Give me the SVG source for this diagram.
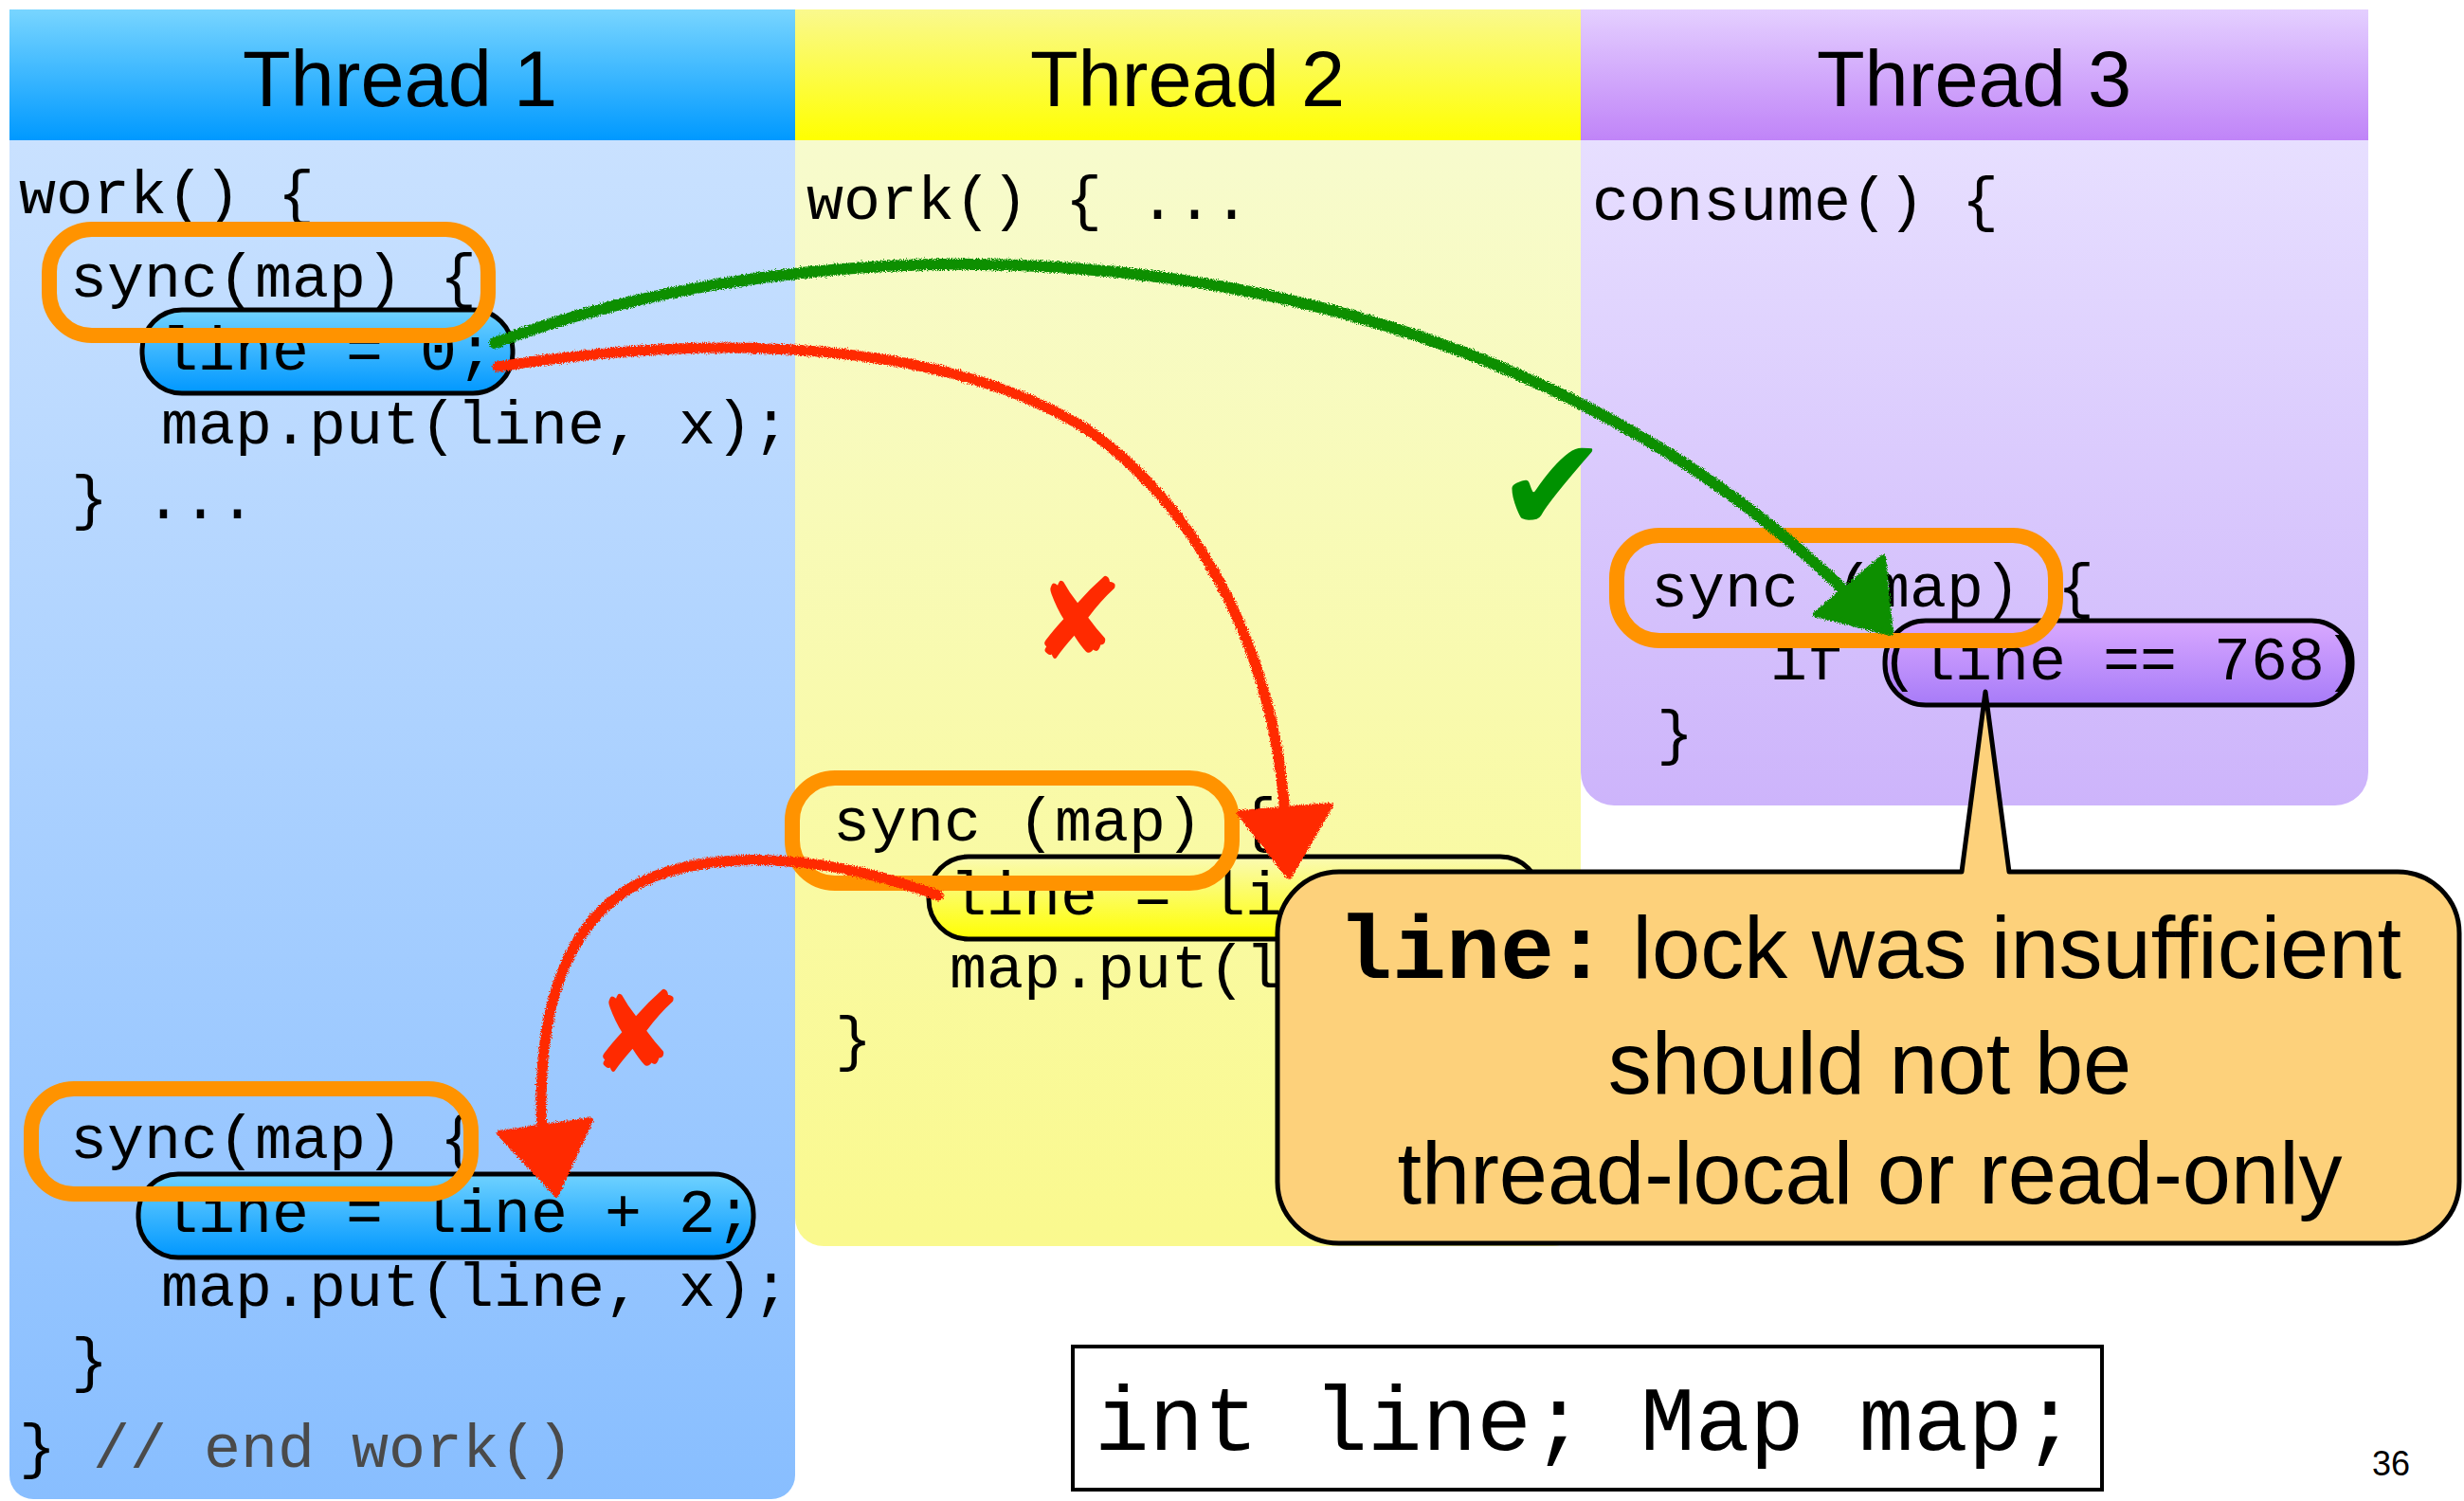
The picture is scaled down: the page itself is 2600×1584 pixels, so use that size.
<svg xmlns="http://www.w3.org/2000/svg" width="2600" height="1584" viewBox="0 0 2600 1584">
<defs>
<linearGradient id="h1" x1="0" y1="0" x2="0" y2="1"><stop offset="0" stop-color="#78D5FF"/><stop offset="1" stop-color="#0099FF"/></linearGradient>
<linearGradient id="b1" x1="0" y1="0" x2="0" y2="1"><stop offset="0" stop-color="#C9E1FF"/><stop offset="1" stop-color="#88BEFF"/></linearGradient>
<linearGradient id="h2" x1="0" y1="0" x2="0" y2="1"><stop offset="0" stop-color="#FAF98E"/><stop offset="1" stop-color="#FFFF00"/></linearGradient>
<linearGradient id="b2" x1="0" y1="0" x2="0" y2="1"><stop offset="0" stop-color="#F7FBCD"/><stop offset="1" stop-color="#FAF98E"/></linearGradient>
<linearGradient id="h3" x1="0" y1="0" x2="0" y2="1"><stop offset="0" stop-color="#E4CFFF"/><stop offset="1" stop-color="#C084F8"/></linearGradient>
<linearGradient id="b3" x1="0" y1="0" x2="0" y2="1"><stop offset="0" stop-color="#E7DFFF"/><stop offset="1" stop-color="#CDB4FB"/></linearGradient>
<linearGradient id="p1" x1="0" y1="0" x2="0" y2="1"><stop offset="0" stop-color="#70D2FF"/><stop offset="1" stop-color="#0097FF"/></linearGradient>
<linearGradient id="p2" x1="0" y1="0" x2="0" y2="1"><stop offset="0" stop-color="#FAFAB4"/><stop offset="1" stop-color="#FFFF00"/></linearGradient>
<linearGradient id="p3" x1="0" y1="0" x2="0" y2="1"><stop offset="0" stop-color="#D9A9FF"/><stop offset="1" stop-color="#A77BF8"/></linearGradient>
<filter id="rough" filterUnits="userSpaceOnUse" x="0" y="0" width="2600" height="1584">
<feTurbulence type="fractalNoise" baseFrequency="0.9" numOctaves="2" seed="3" result="n"/>
<feDisplacementMap in="SourceGraphic" in2="n" scale="6" xChannelSelector="R" yChannelSelector="G"/>
</filter>
<style>
.mono{font-family:"Liberation Mono","Courier New",monospace;font-size:65px;fill:#000}
.big{font-size:96px}
.hdr{font-family:"Liberation Sans",Arial,sans-serif;font-size:83px;text-anchor:middle;fill:#000}
.sans{font-family:"Liberation Sans",Arial,sans-serif;fill:#000}
.lock{fill:none;stroke:#FF9300;stroke-width:16}
.pill{stroke:#000;stroke-width:5}
.red{fill:none;stroke:#FF2A00;stroke-width:11;stroke-linecap:round}
.redf{fill:#FF2A00;stroke:#FF2A00;stroke-width:6;stroke-linejoin:round}
.green{fill:none;stroke:#0A8F00;stroke-width:12;stroke-linecap:round}
.greenf{fill:#0A8F00;stroke:#0A8F00;stroke-width:6;stroke-linejoin:round}
.mark{font-family:"DejaVu Sans",sans-serif;text-anchor:middle}
</style>
</defs>

<g id="thread1">
<rect x="10" y="10" width="829" height="138" fill="url(#h1)"/>
<path d="M10,148 H839 V1557 A25,25 0 0 1 814,1582 H35 A25,25 0 0 1 10,1557 Z" fill="url(#b1)"/>
<text class="hdr" x="422" y="112">Thread 1</text>
</g>
<g id="thread2">
<rect x="839" y="10" width="829" height="138" fill="url(#h2)"/>
<path d="M839,148 H1668 V1285 A30,30 0 0 1 1638,1315 H869 A30,30 0 0 1 839,1285 Z" fill="url(#b2)"/>
<text class="hdr" x="1253" y="112">Thread 2</text>
</g>
<g id="thread3">
<rect x="1668" y="10" width="831" height="138" fill="url(#h3)"/>
<path d="M1668,148 H2499 V815 A35,35 0 0 1 2464,850 H1703 A35,35 0 0 1 1668,815 Z" fill="url(#b3)"/>
<text class="hdr" x="2083" y="112">Thread 3</text>
</g>

<g id="t1-code-top">
<text class="mono" x="20" y="225">work() {</text>
<rect class="pill" x="150" y="327" width="391" height="88" rx="42" fill="url(#p1)"/>
<text class="mono" x="74" y="313">sync(map) {</text>
<text class="mono" x="170" y="390">line = 0;</text>
<text class="mono" x="170" y="468">map.put(line, x);</text>
<text class="mono" x="75" y="547">} ...</text>
<rect class="lock" x="52" y="242" width="463" height="112" rx="45"/>
</g>

<g id="t1-code-bottom">
<rect class="pill" x="146" y="1239" width="649" height="88" rx="42" fill="url(#p1)"/>
<text class="mono" x="74" y="1222">sync(map) {</text>
<text class="mono" x="170" y="1300">line = line + 2;</text>
<text class="mono" x="170" y="1378">map.put(line, x);</text>
<text class="mono" x="75" y="1457">}</text>
<text class="mono" x="20" y="1548">} <tspan fill="#4A4A4A">// end work()</tspan></text>
<rect class="lock" x="33" y="1149" width="464" height="111" rx="45"/>
</g>

<g id="t2-code">
<text class="mono" x="851" y="231">work() { ...</text>
<rect class="pill" x="980" y="904" width="645" height="87" rx="42" fill="url(#p2)"/>
<text class="mono" x="879" y="887">sync (map) {</text>
<text class="mono" x="1002" y="965">line = li</text>
<text class="mono" x="1002" y="1042">map.put(l</text>
<text class="mono" x="881" y="1118">}</text>
<rect class="lock" x="836" y="821" width="464" height="111" rx="45"/>
</g>

<g id="t3-code">
<text class="mono" x="1680" y="232">consume() {</text>
<rect class="pill" x="1989" y="655" width="493" height="89" rx="43" fill="url(#p3)"/>
<text class="mono" x="1742" y="640">sync (map) {</text>
<text class="mono" x="1868" y="717">if (line == 768)</text>
<text class="mono" x="1748" y="795">}</text>
<rect class="lock" x="1706" y="565" width="463" height="111" rx="45"/>
</g>

<g id="callout">
<path d="M1413,920 H2070 L2095,730 L2120,920 H2530 A65,65 0 0 1 2595,985 V1247 A65,65 0 0 1 2530,1312 H1413 A65,65 0 0 1 1348,1247 V985 A65,65 0 0 1 1413,920 Z" fill="#FDD17B" stroke="#000" stroke-width="5" stroke-linejoin="round"/>
<text class="sans" x="1973" y="1032" text-anchor="middle"><tspan font-family="'Liberation Mono','Courier New',monospace" font-weight="bold" font-size="95">line:</tspan><tspan font-size="92"> lock was insufficient</tspan></text>
<text class="sans" x="1973" y="1154" text-anchor="middle" font-size="92">should not be</text>
<text class="sans" x="1973" y="1270" text-anchor="middle" font-size="92">thread-local or read-only</text>
</g>

<g id="declaration">
<rect x="1132" y="1421" width="1086" height="151" fill="#FFFFFF" stroke="#000" stroke-width="4"/>
<text class="mono big" x="1155" y="1530">int line; Map map;</text>
</g>

<g id="marks">
<text class="mark" x="1638" y="561" font-size="140" fill="#009100">✔</text>
<text class="mark" x="1137" y="695" font-size="118" fill="#FF2A00">✘</text>
<text class="mark" x="671" y="1131" font-size="118" fill="#FF2A00">✘</text>
</g>

<text class="sans" x="2503" y="1557" font-size="36">36</text>

<g id="connectors" filter="url(#rough)">
<path class="green" d="M522,362 C900,220 1550,230 1955,632"/>
<polygon class="greenf" points="1995,668 1987,588 1916,648"/>
<path class="red" d="M525,387 C760,350 1000,360 1150,455 C1275,545 1345,700 1356,860"/>
<polygon class="redf" points="1308,858 1404,850 1360,925"/>
<path class="red" d="M990,945 C880,905 770,895 690,925 C600,960 565,1060 572,1195"/>
<polygon class="redf" points="527,1196 623,1182 587,1260"/>
</g>
</svg>
